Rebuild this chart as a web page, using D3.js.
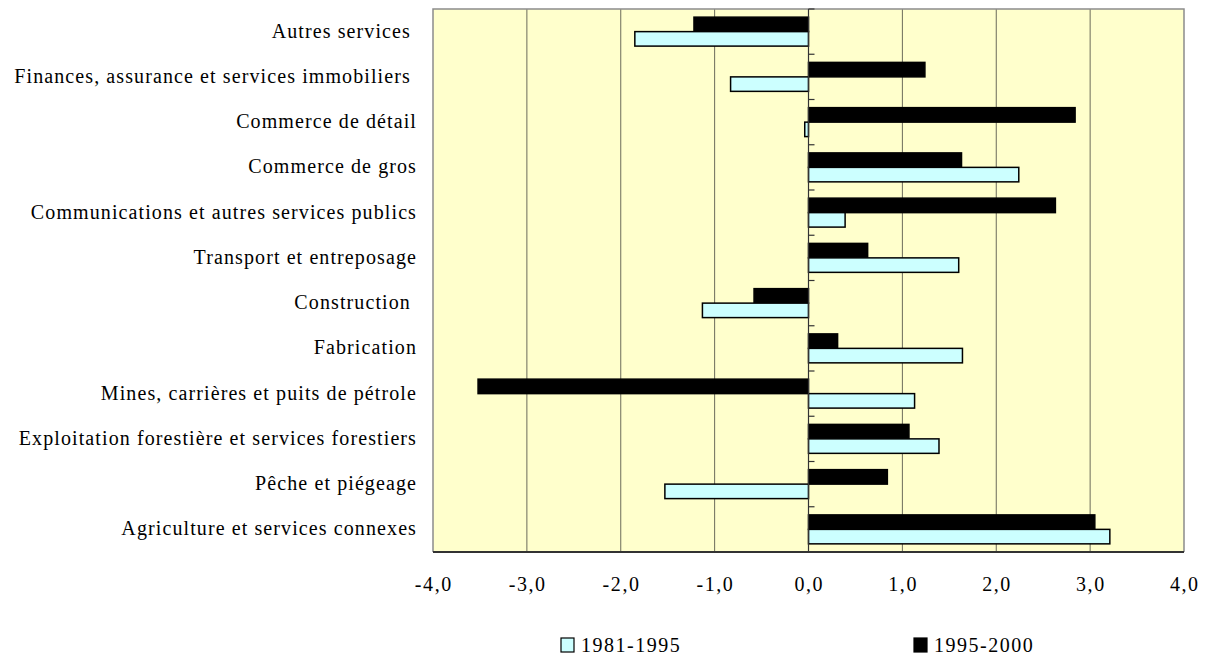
<!DOCTYPE html>
<html>
<head>
<meta charset="utf-8">
<script src="https://cdn.jsdelivr.net/npm/d3@7"></script>
<style>
  html, body { margin: 0; padding: 0; background: #ffffff; }
  svg { display: block; }
</style>
</head>
<body>
<svg id="chart" width="1208" height="656"></svg>
<script>
// Industries, listed from top to bottom (trailing spaces kept as in the labels)
const categories = [
  "Autres services ",
  "Finances, assurance et services immobiliers ",
  "Commerce de détail",
  "Commerce de gros",
  "Communications et autres services publics",
  "Transport et entreposage",
  "Construction ",
  "Fabrication",
  "Mines, carrières et puits de pétrole",
  "Exploitation forestière et services forestiers",
  "Pêche et piégeage",
  "Agriculture et services connexes"
];

const seriesNames = ["1995-2000", "1981-1995"];
const values1981_1995 = [-1.85, -0.83, -0.04, 2.24, 0.39, 1.60, -1.13, 1.64, 1.13, 1.39, -1.53, 3.21];
const values1995_2000 = [-1.22, 1.24, 2.84, 1.63, 2.63, 0.63, -0.58, 0.31, -3.52, 1.07, 0.84, 3.05];
const xTicks = [-4, -3, -2, -1, 0, 1, 2, 3, 4];

const seriesValues = { "1995-2000": values1995_2000, "1981-1995": values1981_1995 };
const seriesFill = { "1995-2000": "#000000", "1981-1995": "#CCFFFF" };

const FONT = "'Liberation Serif', Tinos, 'Times New Roman', 'DejaVu Serif', serif";

const svg = d3.select("#chart");
const plot = { left: 433, right: 1184, top: 9, bottom: 552 };

const x = d3.scaleLinear().domain([-4, 4]).range([plot.left, plot.right]);
const y0 = d3.scaleBand().domain(categories).range([plot.top, plot.bottom])
  .paddingInner(0.36).paddingOuter(0.18);
const y1 = d3.scaleBand().domain(seriesNames).range([0, y0.bandwidth()]);

const fr = d3.formatLocale({ decimal: ",", thousands: " ", grouping: [3], currency: ["", " €"], minus: "-" });
const fmt = fr.format(".1f");

// plot background
svg.append("rect")
  .attr("x", plot.left).attr("y", plot.top)
  .attr("width", plot.right - plot.left).attr("height", plot.bottom - plot.top)
  .attr("fill", "#FFFFCC");

// vertical gridlines
svg.append("g").selectAll("line")
  .data(xTicks.filter(d => d > -4 && d < 4 && d !== 0))
  .join("line")
  .attr("x1", d => x(d)).attr("x2", d => x(d))
  .attr("y1", plot.top).attr("y2", plot.bottom)
  .attr("stroke", "#6b6b5a").attr("stroke-width", 1);

// frame: grey on three sides
svg.append("path")
  .attr("d", `M${plot.left},${plot.bottom} V${plot.top} H${plot.right} V${plot.bottom}`)
  .attr("fill", "none").attr("stroke", "#8c8c8c").attr("stroke-width", 1.5);

// bars
const groups = svg.append("g").selectAll("g")
  .data(categories)
  .join("g")
  .attr("transform", d => `translate(0,${y0(d)})`);

groups.selectAll("rect")
  .data((c, i) => seriesNames.map(s => ({ s, v: seriesValues[s][i] })))
  .join("rect")
  .attr("x", d => x(Math.min(0, d.v)))
  .attr("width", d => Math.abs(x(d.v) - x(0)))
  .attr("y", d => y1(d.s))
  .attr("height", y1.bandwidth())
  .attr("fill", d => seriesFill[d.s])
  .attr("stroke", "#000").attr("stroke-width", 1.5);

// vertical axis at zero with category ticks
svg.append("line")
  .attr("x1", x(0)).attr("x2", x(0))
  .attr("y1", plot.top).attr("y2", plot.bottom)
  .attr("stroke", "#333").attr("stroke-width", 1.2);
svg.append("g").selectAll("line")
  .data(d3.range(categories.length + 1))
  .join("line")
  .attr("x1", x(0)).attr("x2", x(0) + 6)
  .attr("y1", i => plot.top + i * (plot.bottom - plot.top) / categories.length)
  .attr("y2", i => plot.top + i * (plot.bottom - plot.top) / categories.length)
  .attr("stroke", "#333").attr("stroke-width", 1.2);

// bottom axis line
svg.append("line")
  .attr("x1", plot.left).attr("x2", plot.right)
  .attr("y1", plot.bottom).attr("y2", plot.bottom)
  .attr("stroke", "#333").attr("stroke-width", 2);

// x tick labels
svg.append("g").selectAll("text")
  .data(xTicks)
  .join("text")
  .attr("x", d => x(d) + 0.8).attr("y", 591)
  .attr("text-anchor", "middle")
  .attr("font-family", FONT)
  .attr("font-size", 20)
  .attr("letter-spacing", 1.6)
  .text(d => fmt(d));

// category labels
svg.append("g").selectAll("text")
  .data(categories)
  .join("text")
  .attr("x", 417)
  .attr("y", d => y0(d) + y0.bandwidth() / 2 + 6)
  .attr("text-anchor", "end")
  .attr("font-family", FONT)
  .attr("font-size", 20)
  .attr("letter-spacing", 1.1)
  .style("white-space", "pre")
  .text(d => d);

// legend
const legendItems = [
  { s: "1981-1995", x: 561 },
  { s: "1995-2000", x: 914 }
];
const lg = svg.append("g").selectAll("g").data(legendItems).join("g")
  .attr("transform", d => `translate(${d.x},638)`);
lg.append("rect")
  .attr("width", 13).attr("height", 14)
  .attr("fill", d => seriesFill[d.s])
  .attr("stroke", "#000").attr("stroke-width", 1.2);
lg.append("text")
  .attr("x", 20).attr("y", 14)
  .attr("font-family", FONT)
  .attr("font-size", 20)
  .attr("letter-spacing", 1.5)
  .text(d => d.s);
</script>
</body>
</html>
